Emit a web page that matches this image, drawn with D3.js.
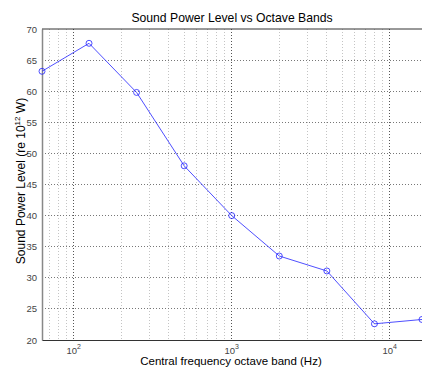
<!DOCTYPE html>
<html><head><meta charset="utf-8">
<script src="https://cdn.jsdelivr.net/npm/d3@7"></script>
<style>body{margin:0;background:#fff}svg{display:block;font-family:"Liberation Sans",Arial,sans-serif}</style>
</head><body><svg id="c" width="422" height="369"></svg>
<script>
const freqs = [63, 125, 250, 500, 1000, 2000, 4000, 8000, 16000];
const levels = [63.2, 67.7, 59.8, 48.0, 40.0, 33.5, 31.1, 22.6, 23.3];
const yTicks = [20, 25, 30, 35, 40, 45, 50, 55, 60, 65, 70];
const xMajor = [100, 1000, 10000];
const xMajorExp = ["2", "3", "4"];
const title = "Sound Power Level vs Octave Bands";
const xLabel = "Central frequency octave band (Hz)";

const svg = d3.select("#c");
const L = 42, R = 422, T = 29, B = 340;
const x = d3.scaleLog().domain([63, 16000]).range([L, R]);
const y = d3.scaleLinear().domain([20, 70]).range([B, T]);

// minor grid
const minor = [];
for (let d = 10; d <= 10000; d *= 10) for (let k = 2; k <= 9; k++) { const v = k * d; if (v > 63 && v < 16000) minor.push(v); }
svg.append("g").selectAll("line").data(minor).join("line")
  .attr("x1", d => x(d)).attr("x2", d => x(d)).attr("y1", T).attr("y2", B)
  .attr("stroke", "#c4c4c4").attr("stroke-width", 1).attr("stroke-dasharray", "1,2").attr("shape-rendering", "crispEdges");
// major grid x
svg.append("g").selectAll("line").data(xMajor).join("line")
  .attr("x1", d => x(d)).attr("x2", d => x(d)).attr("y1", T).attr("y2", B)
  .attr("stroke", "#555").attr("stroke-width", 1).attr("stroke-dasharray", "1,2").attr("shape-rendering", "crispEdges");
// y grid
svg.append("g").selectAll("line").data(yTicks.slice(1, -1)).join("line")
  .attr("x1", L).attr("x2", R).attr("y1", d => y(d)).attr("y2", d => y(d))
  .attr("stroke", "#777").attr("stroke-width", 1).attr("stroke-dasharray", "1,2").attr("shape-rendering", "crispEdges");

// axes
const yAxis = d3.axisLeft(y).tickValues(yTicks).tickSize(0).tickPadding(5);
const gy = svg.append("g").attr("transform", `translate(${L},0)`).call(yAxis);
gy.select(".domain").attr("stroke", "#888").attr("stroke-width", 1.5);
gy.selectAll("text").attr("font-size", 9.5).attr("fill", "#444");

const xAxis = d3.axisBottom(x).tickValues(xMajor).tickSize(0).tickFormat("");
const gx = svg.append("g").attr("transform", `translate(0,${B})`).call(xAxis);
gx.select(".domain").attr("stroke", "#333").attr("stroke-width", 1);
svg.append("line").attr("x1", L).attr("x2", R).attr("y1", T).attr("y2", T).attr("stroke", "#333").attr("stroke-width", 1);

// x tick labels with superscripts
const xl = svg.append("g").selectAll("text").data(xMajor).join("text")
  .attr("x", d => x(d)).attr("y", B + 14).attr("text-anchor", "middle").attr("font-size", 9.5).attr("fill", "#444");
xl.append("tspan").text("10");
xl.append("tspan").attr("dy", -5).attr("font-size", 7).text((d, i) => xMajorExp[i]);

// title and labels
svg.append("text").attr("x", 232).attr("y", 22).attr("text-anchor", "middle").attr("font-size", 12.2).attr("fill", "#000").text(title);
svg.append("text").attr("x", 231).attr("y", 365).attr("text-anchor", "middle").attr("font-size", 11.5).attr("fill", "#000").text(xLabel);
const yl = svg.append("text").attr("transform", `translate(25,181) rotate(-90)`).attr("text-anchor", "middle").attr("font-size", 12).attr("fill", "#000");
yl.append("tspan").text("Sound Power Level (re 10");
yl.append("tspan").attr("dy", -5).attr("font-size", 8).text("12");
yl.append("tspan").attr("dy", 5).text(" W)");

// data
const pts = freqs.map((f, i) => [f, levels[i]]);
svg.append("path").datum(pts).attr("fill", "none").attr("stroke", "#2222ff").attr("stroke-width", 0.8)
  .attr("d", d3.line().x(d => x(d[0])).y(d => y(d[1])));
svg.append("g").selectAll("circle").data(pts).join("circle")
  .attr("cx", d => x(d[0])).attr("cy", d => y(d[1])).attr("r", 3)
  .attr("fill", "none").attr("stroke", "#2222ff").attr("stroke-width", 0.8);
</script></body></html>
